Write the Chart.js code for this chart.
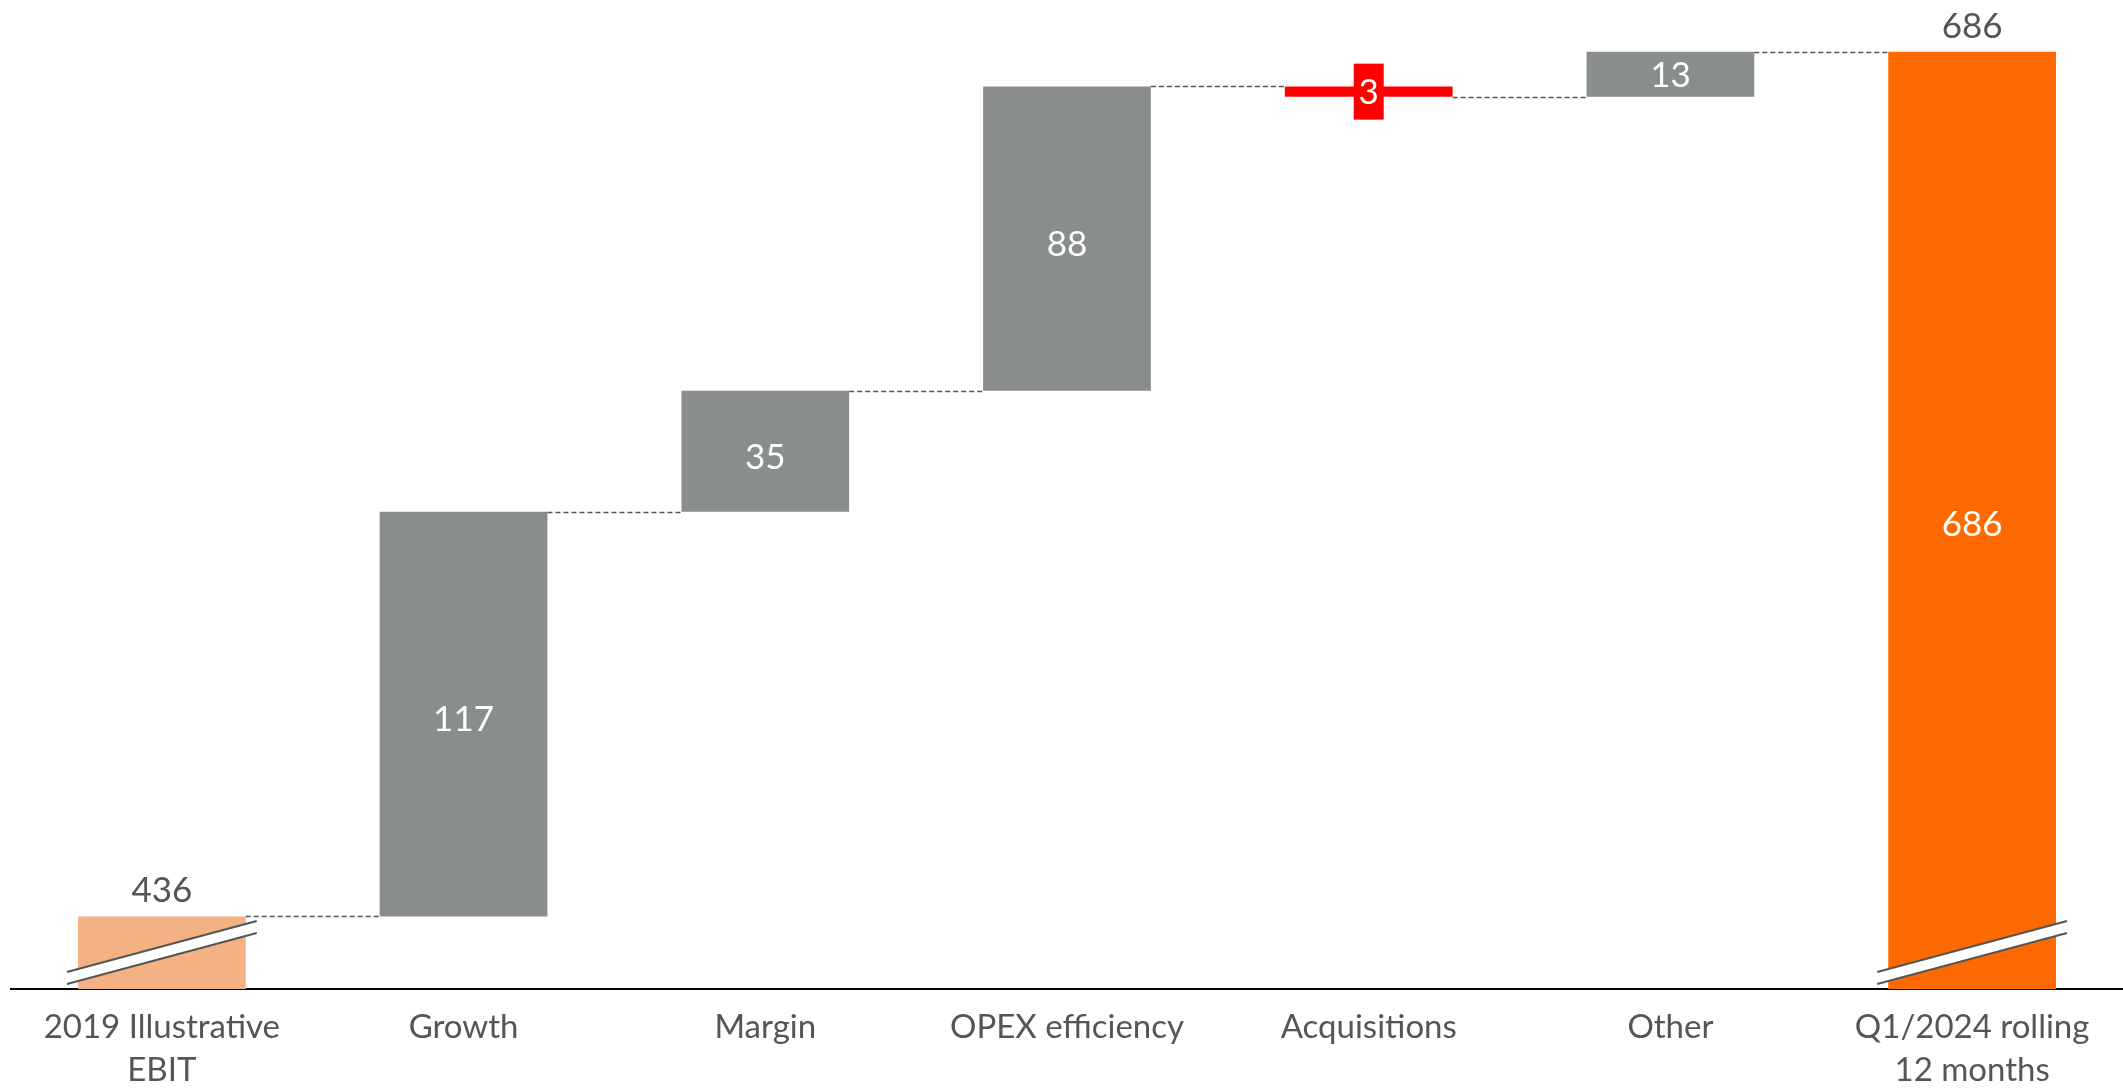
<!DOCTYPE html>
<html lang="en">
<head>
<meta charset="UTF-8">
<title>EBIT bridge</title>
<script src="https://cdn.jsdelivr.net/npm/chart.js"></script>
<style>
    html, body { margin: 0; padding: 0; background: #fff; }
    #wrap { width: 2123px; height: 1088px; }
</style>
</head>
<body>
<div id="wrap"><canvas id="canvasPonte"></canvas></div>
<script>
    // dados do gráfico
    const categorias = [['2019 Illustra\u200Ctive', 'EBIT'], 'Growth', 'Margin', 'OPEX efficiency', 'Acquisitions', 'Other', ['Q1/2024 rolling', '12 months']];
    const valores = [436, 117, 35, 88, -3, 13, 686];
    const tipos = ['total', 'delta', 'delta', 'delta', 'delta', 'delta', 'total'];
    const cores = ['#F4B183', '#8A8D8D', '#8A8D8D', '#8A8D8D', '#FF0000', '#8A8D8D', '#FF6A00'];

    const yMin = 415;
    const yMax = 701;

    // monta as barras flutuantes a partir do acumulado
    let acumulado = 0;
    const barras = [];
    const niveis = [];
    valores.forEach((v, i) => {
        if (tipos[i] === 'total') {
            barras.push([0, v]);
            acumulado = v;
        } else {
            barras.push([acumulado, acumulado + v]);
            acumulado += v;
        }
        niveis.push(acumulado);
    });

    const fonte = 'Lato, "Open Sans", sans-serif';

    const pluginPonte = {
        id: 'ponte',
        afterDatasetsDraw(chart) {
            const ctx = chart.ctx;
            const meta = chart.getDatasetMeta(0);
            const y = chart.scales.y;
            const area = chart.chartArea;
            ctx.save();

            // linhas tracejadas entre as barras
            ctx.strokeStyle = '#555';
            ctx.lineWidth = 1.5;
            ctx.setLineDash([5, 3]);
            for (let i = 0; i < meta.data.length - 1; i++) {
                const a = meta.data[i];
                const b = meta.data[i + 1];
                const yy = Math.round(y.getPixelForValue(niveis[i])) + 0.5;
                ctx.beginPath();
                ctx.moveTo(a.x + a.width / 2, yy);
                ctx.lineTo(b.x - b.width / 2, yy);
                ctx.stroke();
            }
            ctx.setLineDash([]);

            // marcas de quebra nas barras de total
            meta.data.forEach((bar, i) => {
                if (tipos[i] !== 'total') return;
                const x0 = bar.x - bar.width / 2 - 11;
                const x1 = bar.x + bar.width / 2 + 11;
                const yA = area.bottom - 17;
                const yB = yA - 51;
                ctx.fillStyle = '#fff';
                ctx.beginPath();
                ctx.moveTo(x0, yA);
                ctx.lineTo(x1, yB);
                ctx.lineTo(x1, yB + 12);
                ctx.lineTo(x0, yA + 12);
                ctx.closePath();
                ctx.fill();
                ctx.strokeStyle = '#555';
                ctx.lineWidth = 2;
                ctx.beginPath();
                ctx.moveTo(x0, yA);
                ctx.lineTo(x1, yB);
                ctx.moveTo(x0, yA + 12);
                ctx.lineTo(x1, yB + 12);
                ctx.stroke();
            });

            // rótulos de valor
            ctx.font = '35px ' + fonte;
            ctx.textAlign = 'center';
            meta.data.forEach((bar, i) => {
                const v = valores[i];
                const texto = String(Math.abs(v));
                if (tipos[i] === 'total') {
                    ctx.fillStyle = '#555';
                    ctx.textBaseline = 'alphabetic';
                    ctx.fillText(texto, bar.x, y.getPixelForValue(v) - 14);
                    if (i === meta.data.length - 1) {
                        ctx.fillStyle = '#fff';
                        ctx.textBaseline = 'middle';
                        ctx.fillText(texto, bar.x, (y.getPixelForValue(v) + area.bottom) / 2 + 4);
                    }
                } else {
                    const yTopo = y.getPixelForValue(barras[i][1]);
                    const yBase = y.getPixelForValue(barras[i][0]);
                    const yc = (yTopo + yBase) / 2;
                    const ajuste = Math.abs(yBase - yTopo) > 100 ? 6 : 1;
                    if (v < 0) {
                        ctx.fillStyle = '#FF0000';
                        ctx.fillRect(bar.x - 15, yc - 28, 30, 56);
                    }
                    ctx.fillStyle = '#fff';
                    ctx.textBaseline = 'middle';
                    ctx.fillText(texto, bar.x, yc + ajuste);
                }
            });
            ctx.restore();
        }
    };

    const configPonte = {
        type: 'bar',
        data: {
            labels: categorias,
            datasets: [{
                data: barras,
                backgroundColor: cores,
                borderWidth: 0,
                barPercentage: 0.556,
                categoryPercentage: 1
            }]
        },
        plugins: [pluginPonte],
        options: {
            responsive: true,
            maintainAspectRatio: false,
            animation: false,
            layout: {
                padding: { left: 11, right: 0, top: 0, bottom: 0 }
            },
            plugins: {
                legend: { display: false },
                tooltip: { enabled: false }
            },
            scales: {
                x: {
                    grid: { display: false, drawTicks: false },
                    border: { display: true, color: '#000', width: 2 },
                    ticks: {
                        color: '#555',
                        padding: 16,
                        maxRotation: 0,
                        autoSkip: false,
                        font: { size: 33, family: fonte, lineHeight: 1.33 }
                    },
                    afterFit(scale) {
                        scale.height = 99;
                    }
                },
                y: {
                    display: false,
                    min: yMin,
                    max: yMax
                }
            }
        }
    };

    const graficoPonte = new Chart(document.getElementById('canvasPonte'), configPonte);
</script>
</body>
</html>
